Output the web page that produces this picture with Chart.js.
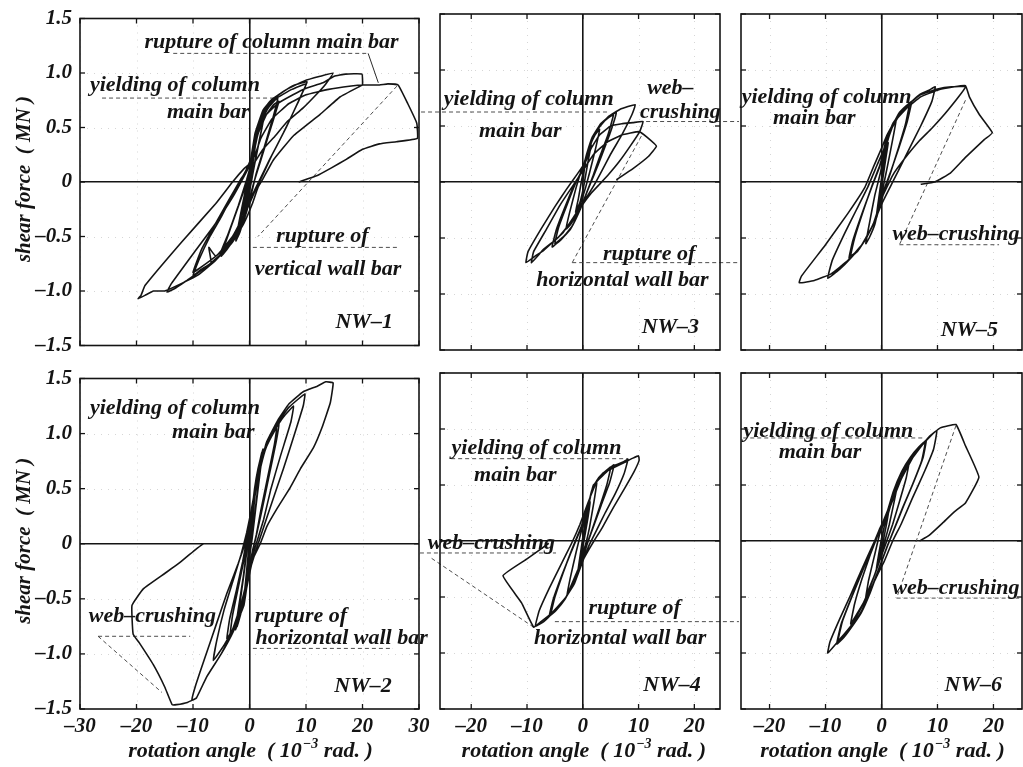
<!DOCTYPE html>
<html>
<head>
<meta charset="utf-8">
<script src="https://cdn.jsdelivr.net/npm/chart.js@4.4.1/dist/chart.umd.min.js"></script>
<style>
  body { margin: 0; background: #fff; }
  #wrap { position: relative; width: 1023px; height: 767px; overflow: hidden; background: #fff; }
  canvas { position: absolute; }
</style>
</head>
<body>
<div id="wrap"></div>
<script>
// rotation angle (1e-3 rad) vs shear force (MN)
const nw1Path = [[0,0],
  [0.3,0.15],[0.7,0.3],[1.2,0.42],[0.8,0.3],[0.2,0.05],[0,-0.05],[-0.5,-0.22],[-1,-0.36],[-0.6,-0.25],[-0.1,-0.02],[0.1,0.05],
  [0.4,0.2],[0.9,0.36],[1.4,0.45],[1,0.32],[0.3,0.06],[0,-0.04],[-0.6,-0.26],[-1.2,-0.4],[-0.7,-0.26],[-0.1,0],
  [0.5,0.2],[1.2,0.38],[2,0.52],[2.6,0.6],[2,0.45],[1,0.2],[0.4,0.02],[0,-0.08],[-0.6,-0.25],[-1.5,-0.42],[-2.3,-0.52],[-1.8,-0.4],[-0.8,-0.15],[-0.2,0.02],
  [0.4,0.22],[1,0.4],[1.8,0.52],[2.5,0.58],[1.9,0.42],[0.9,0.16],[0.3,0],[-0.2,-0.12],[-0.9,-0.32],[-1.7,-0.46],[-2.4,-0.54],[-1.9,-0.38],[-0.9,-0.12],[-0.2,0.06],
  [0.3,0.14],[1,0.36],[2,0.55],[3.2,0.67],[4.5,0.75],[5,0.77],[4.2,0.6],[2.5,0.3],[1.2,0.08],[0.6,-0.05],[0,-0.18],[-1,-0.35],[-2.5,-0.5],[-4,-0.62],[-5,-0.68],[-4.2,-0.55],[-2.5,-0.3],[-1,-0.08],[-0.2,0.05],
  [0.5,0.2],[1.5,0.44],[3,0.62],[4.3,0.71],[5.2,0.74],[3.8,0.5],[2,0.2],[0.8,0],[0,-0.15],[-1.5,-0.4],[-3.5,-0.57],[-5.2,-0.66],[-3.8,-0.48],[-2,-0.22],[-0.5,0.02],
  [0.5,0.22],[1.2,0.46],[2.4,0.64],[4,0.75],[6,0.83],[8,0.89],[10.2,0.92],[9,0.78],[6.5,0.5],[4,0.25],[2.2,0.05],[1,-0.08],[0,-0.2],[-1.5,-0.38],[-3.5,-0.55],[-6,-0.68],[-7.2,-0.6],[-6.8,-0.74],[-8.5,-0.8],[-10,-0.86],[-9,-0.72],[-7,-0.5],[-5,-0.32],[-3,-0.12],[-1.5,0.02],[-0.5,0.12],[0.5,0.25],
  [1.3,0.47],[2.6,0.64],[4.5,0.76],[7.5,0.85],[10,0.9],[8.5,0.72],[6,0.45],[3.5,0.2],[1.8,0.02],[0.5,-0.12],[-1,-0.3],[-3,-0.5],[-5.5,-0.66],[-8,-0.76],[-10,-0.83],[-8.5,-0.62],[-6,-0.38],[-3.5,-0.15],[-1.5,0.03],[0,0.15],
  [1,0.45],[2.4,0.66],[4,0.76],[6.6,0.85],[9.8,0.93],[12.5,0.97],[14.8,1.0],[13.5,0.9],[12.5,0.84],[9.5,0.68],[6.6,0.55],[4.5,0.42],[2.4,0.3],[0.6,0.15],[-0.3,-0.08],[-1.5,-0.4],[-3,-0.55],[-5,-0.66],[-7,-0.75],[-9,-0.83],[-11,-0.9],[-13,-0.97],[-14.6,-1.01],[-13.8,-0.93],[-10,-0.66],[-6,-0.38],[-3,-0.14],[-1.5,0],[0,0.15],
  [0.6,0.3],[1.5,0.47],[3,0.62],[5,0.72],[7.7,0.8],[10,0.86],[13,0.91],[15,0.97],[17,0.99],[19.9,0.99],[20,0.89],[19.6,0.88],[16,0.78],[12.5,0.62],[7.7,0.42],[4.2,0.2],[2.4,0.03],[1.5,-0.05],[0.5,-0.2],[-1,-0.38],[-3,-0.55],[-6,-0.72],[-9,-0.85],[-12,-0.93],[-15,-1.0],[-17,-1.0],[-18.5,-1.04],[-19.7,-1.07],[-19.2,-1.04],[-18.5,-0.95],[-12,-0.55],[-6,-0.2],[-3,0],[-1,0.12],[0.1,0.17],[1,0.25],
  [2,0.4],[4,0.58],[7,0.72],[10,0.8],[14,0.85],[18,0.88],[20,0.89],[23,0.89],[24.5,0.9],[26.3,0.89],[28,0.72],[29.6,0.54],[29.7,0.4],[26,0.37],[23,0.35],[20,0.3],[17.2,0.21],[14.5,0.13],[12,0.06],[8.7,0]];

const nw2Path = [[0,0],
  [0.3,0.2],[0.7,0.4],[1.2,0.55],[0.9,0.4],[0.3,0.1],[0,-0.05],[-0.3,-0.2],[-0.7,-0.4],[-1,-0.5],[-0.7,-0.35],[-0.2,-0.08],[0.1,0.08],
  [0.5,0.3],[1,0.52],[1.6,0.7],[2.2,0.83],[1.8,0.65],[1,0.3],[0.4,0.05],[0,-0.1],[-0.5,-0.3],[-1.2,-0.55],[-1.8,-0.68],[-2.2,-0.75],[-1.8,-0.58],[-1,-0.28],[-0.3,0],[0.2,0.15],
  [0.4,0.28],[0.9,0.5],[1.5,0.68],[2.4,0.86],[1.9,0.66],[1.1,0.32],[0.5,0.06],[0,-0.12],[-0.6,-0.35],[-1.3,-0.58],[-2,-0.72],[-2.5,-0.78],[-2,-0.6],[-1.1,-0.3],[-0.4,-0.02],[0.1,0.14],
  [0.6,0.3],[1.3,0.55],[2.2,0.78],[3.3,0.95],[4.8,1.05],[4.4,0.9],[3.2,0.6],[2,0.3],[1.2,0.08],[0.6,-0.05],[0,-0.2],[-0.8,-0.45],[-1.8,-0.65],[-3.4,-0.82],[-3,-0.65],[-2,-0.4],[-1,-0.15],[-0.3,0.05],[0.3,0.2],
  [0.7,0.36],[1.5,0.62],[2.6,0.85],[3.8,1.0],[5.2,1.09],[4.7,0.92],[3.4,0.6],[2.1,0.28],[1.1,0.05],[0.3,-0.12],[-0.6,-0.38],[-1.8,-0.64],[-3,-0.78],[-4,-0.86],[-3.5,-0.68],[-2.3,-0.42],[-1.2,-0.16],[-0.4,0.06],[0.4,0.26],
  [1,0.45],[2,0.7],[3,0.88],[4.5,1.03],[6,1.15],[7.8,1.25],[7.3,1.1],[5.5,0.8],[3.8,0.5],[2.5,0.22],[1.5,0.05],[0.6,-0.1],[-0.3,-0.3],[-1.5,-0.55],[-3,-0.78],[-4.5,-0.92],[-6.4,-1.06],[-5.8,-0.88],[-4.5,-0.6],[-3,-0.35],[-1.5,-0.1],[-0.5,0.1],[0.3,0.3],
  [1,0.5],[2,0.75],[3.5,0.95],[5,1.1],[7,1.24],[9.8,1.36],[9.5,1.25],[8,1.0],[6,0.68],[4,0.38],[2.5,0.15],[1.2,-0.05],[0,-0.25],[-1.5,-0.55],[-3,-0.8],[-5,-1.0],[-7.6,-1.21],[-9.4,-1.4],[-10.2,-1.42],[-9.5,-1.28],[-8,-1.05],[-6,-0.75],[-4,-0.45],[-2,-0.18],[-0.8,0],[0,0.15],[0.8,0.4],
  [1.5,0.62],[3,0.92],[5,1.12],[7,1.27],[9.5,1.38],[12,1.43],[13.5,1.47],[14.8,1.46],[14.3,1.28],[12.8,1.05],[11.3,0.87],[9,0.68],[7.2,0.51],[5,0.33],[3.1,0.16],[1.9,0],[0.6,-0.14],[-0.5,-0.4],[-1,-0.56],[-2.9,-0.8],[-5,-1.0],[-7.6,-1.21],[-9.4,-1.4],[-11,-1.44],[-12.9,-1.46],[-13.7,-1.46],[-15,-1.3],[-17,-1.1],[-19.5,-0.9],[-20.6,-0.82],[-20.8,-0.56],[-18.8,-0.41],[-15,-0.27],[-12.3,-0.17],[-9.5,-0.05],[-8.2,0]];

const nw3Path = [[0,0],
  [0.3,0.12],[0.8,0.25],[1.5,0.33],[1,0.2],[0.3,0],[0,-0.08],[-0.5,-0.18],[-1.3,-0.27],[-0.8,-0.15],[-0.2,0.02],
  [0.5,0.18],[1.3,0.32],[2.2,0.42],[3,0.47],[2.3,0.3],[1.2,0.08],[0.5,-0.05],[-0.3,-0.18],[-1.2,-0.3],[-2.2,-0.38],[-3,-0.42],[-2.4,-0.28],[-1.2,-0.05],[-0.3,0.1],
  [0.6,0.22],[1.5,0.37],[3,0.5],[4.5,0.57],[5.5,0.6],[4.5,0.42],[3,0.22],[1.8,0.05],[0.8,-0.08],[-0.5,-0.25],[-2,-0.4],[-3.5,-0.49],[-5,-0.55],[-4.3,-0.4],[-2.8,-0.2],[-1.2,0],[0,0.12],
  [0.7,0.25],[1.7,0.4],[3.2,0.52],[4.8,0.59],[6,0.62],[5,0.45],[3.5,0.25],[2,0.06],[0.9,-0.07],[-0.6,-0.26],[-2.2,-0.42],[-3.8,-0.51],[-5.5,-0.58],[-4.7,-0.42],[-3,-0.2],[-1.4,-0.01],[0,0.1],
  [1,0.3],[2.5,0.46],[4.5,0.58],[6.7,0.65],[9.4,0.69],[8.8,0.6],[7,0.42],[5,0.25],[3.2,0.08],[2,-0.03],[0.5,-0.15],[-1.6,-0.31],[-3.5,-0.45],[-5,-0.52],[-7,-0.61],[-8.5,-0.66],[-10.2,-0.72],[-9.8,-0.62],[-7.5,-0.42],[-5,-0.22],[-3,-0.07],[-1,0.07],[0.5,0.18],
  [1.5,0.3],[3,0.42],[5,0.5],[7,0.52],[9,0.53],[10.8,0.54],[10.2,0.45],[8.5,0.32],[6.5,0.18],[4.5,0.06],[3,-0.02],[1.5,-0.1],[0,-0.2],[-2,-0.35],[-4.5,-0.5],[-7,-0.6],[-9.2,-0.72],[-8.8,-0.62],[-6.5,-0.42],[-4,-0.2],[-2,-0.05],[0,0.1],
  [2,0.25],[4.5,0.36],[7,0.42],[10.1,0.45],[11.5,0.4],[13.2,0.32],[11.8,0.23],[9,0.12],[6,0.02]];

const nw4Path = [[0,0],
  [0.3,0.1],[0.8,0.25],[1.3,0.35],[0.9,0.2],[0.2,0],[0,-0.06],[-0.4,-0.18],[-0.9,-0.28],[-0.5,-0.14],[0,0.03],
  [0.5,0.18],[1.2,0.36],[1.9,0.5],[2.5,0.52],[2,0.35],[1.2,0.12],[0.5,-0.03],[-0.3,-0.15],[-1.2,-0.32],[-2,-0.42],[-2.8,-0.48],[-2.2,-0.32],[-1.2,-0.1],[-0.3,0.08],
  [0.6,0.22],[1.5,0.42],[2.5,0.54],[3.5,0.6],[5,0.66],[4.3,0.5],[3,0.3],[1.8,0.12],[0.8,-0.02],[-0.3,-0.18],[-1.5,-0.36],[-3,-0.5],[-4.5,-0.6],[-5.7,-0.65],[-5,-0.5],[-3.5,-0.28],[-2,-0.08],[-0.5,0.1],
  [0.7,0.26],[1.6,0.45],[2.8,0.56],[4,0.62],[5.6,0.68],[4.8,0.52],[3.3,0.32],[2,0.14],[0.9,-0.01],[-0.3,-0.2],[-1.6,-0.38],[-3.2,-0.52],[-4.8,-0.62],[-6,-0.67],[-5.3,-0.52],[-3.7,-0.3],[-2.1,-0.1],[-0.6,0.08],
  [0.8,0.3],[2,0.5],[3.5,0.6],[5.5,0.67],[7.4,0.71],[8.1,0.73],[7.4,0.6],[5.8,0.42],[4,0.25],[2.5,0.1],[1.2,-0.03],[0,-0.18],[-1.5,-0.38],[-3,-0.5],[-5,-0.62],[-7,-0.72],[-8.5,-0.76],[-7.8,-0.62],[-6,-0.42],[-4,-0.22],[-2,-0.02],[-0.5,0.15],
  [1,0.35],[2.5,0.53],[4.6,0.63],[7.4,0.7],[9,0.74],[10,0.76],[10.1,0.72],[9.2,0.62],[7.5,0.47],[5.5,0.3],[3.5,0.12],[2,0],[0.6,-0.12],[-0.9,-0.26],[-3,-0.5],[-5.7,-0.65],[-7.5,-0.72],[-8.8,-0.77],[-11,-0.55],[-14.3,-0.31],[-10,-0.16],[-6.1,-0.02]];

const nw5Path = [[0,0],
  [0.3,0.12],[0.7,0.25],[1.2,0.35],[0.8,0.22],[0.2,0.02],[0,-0.06],[-0.4,-0.2],[-0.9,-0.3],[-0.5,-0.15],[0,0.03],
  [0.4,0.18],[1,0.35],[2,0.5],[2.6,0.55],[2,0.38],[1.1,0.15],[0.4,-0.02],[-0.4,-0.2],[-1.2,-0.38],[-2.2,-0.5],[-2.8,-0.55],[-2.2,-0.38],[-1.2,-0.12],[-0.2,0.08],
  [0.7,0.3],[2,0.5],[3,0.6],[4.1,0.66],[5,0.7],[4.3,0.52],[3,0.3],[1.6,0.08],[0.5,-0.08],[-0.8,-0.3],[-2.5,-0.48],[-4,-0.6],[-5.5,-0.66],[-4.8,-0.5],[-3.2,-0.25],[-1.6,-0.02],[-0.3,0.15],
  [0.8,0.33],[2.1,0.52],[3.2,0.62],[4.4,0.68],[5.4,0.72],[4.6,0.54],[3.2,0.32],[1.7,0.1],[0.5,-0.06],[-0.9,-0.32],[-2.7,-0.5],[-4.3,-0.62],[-5.8,-0.68],[-5.1,-0.52],[-3.4,-0.27],[-1.7,-0.04],[-0.3,0.14],
  [0.7,0.35],[2,0.52],[4.1,0.66],[6.8,0.78],[8.5,0.82],[9.6,0.85],[9,0.72],[7,0.5],[5,0.3],[3,0.1],[1.5,-0.05],[0,-0.2],[-1.5,-0.38],[-3.5,-0.56],[-5.5,-0.68],[-7.5,-0.78],[-9.6,-0.86],[-8.8,-0.7],[-6.5,-0.45],[-4.5,-0.25],[-2.5,-0.05],[-0.8,0.15],[0.5,0.3],
  [1.5,0.45],[3,0.58],[5,0.7],[7,0.78],[10,0.83],[12.5,0.85],[15,0.85],[12,0.65],[9,0.48],[6.8,0.37],[4,0.2],[2,0.06],[0,-0.15],[-1.5,-0.38],[-3.5,-0.56],[-6,-0.7],[-9,-0.82],[-12,-0.88],[-14.7,-0.9],[-14.3,-0.84],[-10,-0.56],[-6,-0.28],[-3,-0.05],[-1.4,0.14],[0,0.3],[1,0.42],
  [2.5,0.55],[4.5,0.66],[7,0.76],[10,0.82],[13,0.85],[15,0.86],[15.7,0.76],[17.5,0.6],[19.8,0.44],[18.4,0.38],[15,0.22],[12.3,0.08],[9.5,0],[7,-0.02]];

const nw6Path = [[0,0],
  [0.3,0.08],[0.8,0.2],[1.3,0.28],[0.9,0.15],[0.3,0],[0,-0.06],[-0.4,-0.15],[-0.9,-0.25],[-0.5,-0.12],[0,0.02],
  [0.6,0.15],[1.3,0.26],[2.2,0.42],[2.8,0.5],[2.3,0.36],[1.4,0.15],[0.6,0],[-0.3,-0.15],[-1.2,-0.3],[-2.2,-0.42],[-2.8,-0.5],[-2.3,-0.35],[-1.3,-0.14],[-0.4,0.05],
  [0.7,0.2],[1.8,0.38],[3,0.55],[4.2,0.65],[5,0.72],[4.4,0.56],[3.2,0.35],[2,0.15],[0.8,-0.02],[-0.5,-0.2],[-1.8,-0.38],[-3.2,-0.55],[-4.5,-0.66],[-5.5,-0.74],[-4.8,-0.56],[-3.5,-0.34],[-2,-0.12],[-0.6,0.06],
  [0.8,0.22],[2,0.42],[3.5,0.6],[5,0.73],[6.5,0.82],[7.8,0.88],[7.2,0.72],[5.5,0.5],[3.8,0.3],[2.2,0.1],[1,-0.05],[-0.5,-0.25],[-2,-0.45],[-3.5,-0.62],[-5,-0.74],[-6.5,-0.84],[-7.8,-0.9],[-7,-0.72],[-5.3,-0.5],[-3.5,-0.28],[-1.8,-0.07],[-0.4,0.1],
  [0.9,0.24],[2.1,0.44],[3.6,0.62],[5.2,0.75],[6.7,0.84],[8,0.9],[7.4,0.74],[5.7,0.52],[4,0.32],[2.4,0.12],[1.1,-0.04],[-0.4,-0.24],[-2,-0.46],[-3.6,-0.64],[-5.2,-0.76],[-6.7,-0.86],[-8,-0.92],[-7.2,-0.74],[-5.5,-0.52],[-3.7,-0.3],[-2,-0.09],[-0.5,0.08],
  [1,0.26],[2.7,0.48],[4.8,0.69],[7.5,0.87],[9.9,0.99],[9.3,0.82],[7.5,0.6],[5.5,0.38],[3.5,0.15],[2,0],[0.5,-0.18],[-0.7,-0.3],[-2.8,-0.52],[-5.5,-0.76],[-7.5,-0.88],[-9.6,-1.0],[-9.2,-0.9],[-7.5,-0.7],[-5.5,-0.48],[-3.5,-0.25],[-1.5,-0.03],[0,0.13],
  [1.5,0.3],[3.5,0.55],[6,0.78],[8.5,0.93],[10.5,1.01],[13.3,1.04],[15,0.85],[17.4,0.57],[15,0.34],[13,0.26],[10.9,0.16],[8.5,0.05],[6.8,0]];

// leader lines (pairs of [angle, force])
const nw1Leaders = [[[-13.5,1.18],[21,1.18]], [[-26.1,0.77],[4.9,0.77]], [[0.6,-0.6],[26.1,-0.6]], [[26.1,0.88],[1.5,-0.5]]];
const nw1Solid = [[[21,1.18],[22.8,0.91]]];
const nw2Leaders = [[[-26.8,-0.84],[-10.5,-0.84]], [[-26.8,-0.84],[-15.5,-1.35]], [[0.6,-0.95],[25.4,-0.95]]];
const nw3Leaders = [[[-29,0.625],[4.5,0.625]], [[10.1,0.54],[28,0.54]], [[10.5,0.41],[-1.9,-0.72]], [[-1.9,-0.72],[28,-0.72]]];
const nw4Leaders = [[[-29.2,-0.107],[-4.8,-0.107]], [[-27.1,-0.155],[-8.8,-0.77]], [[-23.6,0.735],[8.1,0.735]], [[-5,-0.72],[28,-0.72]]];
const nw5Leaders = [[[15,0.73],[3.2,-0.56]], [[3.2,-0.56],[21,-0.56]]];
const nw6Leaders = [[[13.3,1.03],[2.7,-0.51]], [[2.7,-0.51],[24.6,-0.51]], [[-24.7,0.92],[7.7,0.92]]];

// annotations: text, angle, force
const nw1Notes = [['rupture of column main bar',3.9,1.28],['yielding of column',-13.2,0.89],['main bar',-7.3,0.64],['rupture of',12.9,-0.5],['vertical wall bar',13.9,-0.8],['NW–1',20.3,-1.29]];
const nw2Notes = [['yielding of column',-13.2,1.23],['main bar',-6.4,1.01],['web–crushing',-17.2,-0.66],['rupture of',9.1,-0.66],['horizontal wall bar',16.3,-0.86],['NW–2',20.1,-1.29]];
const nw3Notes = [['yielding of column',-9.7,0.74],['main bar',-11.2,0.45],['web–',15.7,0.84],['crushing',17.5,0.625],['rupture of',11.9,-0.65],['horizontal wall bar',7.1,-0.875],['NW–3',15.7,-1.3]];
const nw4Notes = [['yielding of column',-8.3,0.83],['main bar',-12.1,0.59],['web–crushing',-16.4,-0.02],['rupture of',9.3,-0.6],['horizontal wall bar',6.7,-0.87],['NW–4',16,-1.29]];
const nw5Notes = [['yielding of column',-9.8,0.76],['main bar',-12,0.57],['web–crushing',13.3,-0.47],['NW–5',15.7,-1.32]];
const nw6Notes = [['yielding of column',-9.5,0.98],['main bar',-11,0.79],['web–crushing',13.3,-0.42],['NW–6',16.4,-1.29]];

const xRanges = [[-30, 30], [-25.6, 24.6], [-25.1, 25.1]];
const yRange = [-1.5, 1.5];

const SERIF = '"Liberation Serif", "Times New Roman", serif';
const INK = '#141414';

// page layout of plot boxes
const cols = [
  { x0: 80, w: 339, ml: 80, mr: 20, yW: 50 },
  { x0: 440, w: 280, ml: 20, mr: 20, yW: 0 },
  { x0: 741, w: 281, ml: 20, mr: 1, yW: 0 }
];
const rows = [
  { y0: 14, h: 336, mt: 14, mb: 14, xH: 0 },
  { y0: 373, h: 336, mt: 13, mb: 58, xH: 40 }
];

const panels = [
  { path: nw1Path, leaders: nw1Leaders, solid: nw1Solid, notes: nw1Notes, col: 0, row: 0 },
  { path: nw3Path, leaders: nw3Leaders, solid: [], notes: nw3Notes, col: 1, row: 0 },
  { path: nw5Path, leaders: nw5Leaders, solid: [], notes: nw5Notes, col: 2, row: 0 },
  { path: nw2Path, leaders: nw2Leaders, solid: [], notes: nw2Notes, col: 0, row: 1 },
  { path: nw4Path, leaders: nw4Leaders, solid: [], notes: nw4Notes, col: 1, row: 1 },
  { path: nw6Path, leaders: nw6Leaders, solid: [], notes: nw6Notes, col: 2, row: 1 }
];

function fmtX(v) { return v < 0 ? '–' + (-v) : '' + v; }
function fmtY(v) { return v === 0 ? '0' : (v < 0 ? '–' : '') + Math.abs(v).toFixed(1); }

function seg(ctx, x1, y1, x2, y2) {
  ctx.beginPath(); ctx.moveTo(x1, y1); ctx.lineTo(x2, y2); ctx.stroke();
}

function makeDeco(p) {
  return {
    id: 'deco' + p.col + p.row,
    beforeDatasetsDraw(chart) {
      const { ctx, chartArea: a, scales: { x, y } } = chart;
      ctx.save();
      ctx.strokeStyle = 'rgba(0,0,0,0.16)';
      ctx.lineWidth = 1;
      ctx.setLineDash([1, 6]);
      x.ticks.forEach(t => {
        if (t.value === 0) return;
        const px = Math.round(x.getPixelForValue(t.value)) + 0.5;
        seg(ctx, px, a.top, px, a.bottom);
      });
      y.ticks.forEach(t => {
        if (t.value === 0 || Math.abs(t.value) === 1.5) return;
        const py = Math.round(y.getPixelForValue(t.value)) + 0.5;
        seg(ctx, a.left, py, a.right, py);
      });
      ctx.restore();
    },
    afterDatasetsDraw(chart) {
      const { ctx, chartArea: a, scales: { x, y } } = chart;
      ctx.save();
      ctx.strokeStyle = INK;
      ctx.lineWidth = 1.6;
      ctx.strokeRect(a.left, a.top, a.right - a.left, a.bottom - a.top);
      ctx.lineWidth = 1.3;
      x.ticks.forEach(t => {
        const px = x.getPixelForValue(t.value);
        seg(ctx, px, a.top, px, a.top + 5);
        seg(ctx, px, a.bottom, px, a.bottom - 5);
      });
      y.ticks.forEach(t => {
        const py = y.getPixelForValue(t.value);
        seg(ctx, a.left, py, a.left + 5, py);
        seg(ctx, a.right, py, a.right - 5, py);
      });
      ctx.restore();
    },
    afterDraw(chart) {
      const { ctx, chartArea: a, scales: { x, y } } = chart;
      ctx.save();
      ctx.fillStyle = INK;
      ctx.textAlign = 'center';
      ctx.textBaseline = 'middle';
      ctx.font = 'italic bold 22px ' + SERIF;
      p.notes.forEach(([t, nx, ny]) => {
        ctx.fillText(t, x.getPixelForValue(nx), y.getPixelForValue(ny));
      });
      if (p.col === 0) {
        ctx.save();
        ctx.translate(a.left - 55, (a.top + a.bottom) / 2 - 3);
        ctx.rotate(-Math.PI / 2);
        ctx.font = 'italic bold 21px ' + SERIF;
        ctx.fillText('shear force  ( MN )', 0, 0);
        ctx.restore();
      }
      if (p.row === 1) {
        const big = 'italic bold 22px ' + SERIF, small = 'italic bold 14px ' + SERIF;
        const s1 = 'rotation angle  ( 10', s2 = '−3', s3 = ' rad. )';
        ctx.font = big;
        const w1 = ctx.measureText(s1).width, w3 = ctx.measureText(s3).width;
        ctx.font = small;
        const w2 = ctx.measureText(s2).width + 1;
        let x0 = x.getPixelForValue(0) + 1 - (w1 + w2 + w3) / 2;
        const base = a.bottom + 48;
        ctx.textAlign = 'left';
        ctx.textBaseline = 'alphabetic';
        ctx.font = big; ctx.fillText(s1, x0, base);
        ctx.font = small; ctx.fillText(s2, x0 + w1 + 1, base - 9);
        ctx.font = big; ctx.fillText(s3, x0 + w1 + w2, base);
      }
      ctx.restore();
    }
  };
}

const wrap = document.getElementById('wrap');
Chart.defaults.font.family = SERIF;

panels.forEach(p => {
  const C = cols[p.col], R = rows[p.row];
  const cv = document.createElement('canvas');
  const W = C.ml + C.w + C.mr, H = R.mt + R.h + R.mb;
  cv.width = W; cv.height = H;
  cv.style.left = (C.x0 - C.ml) + 'px';
  cv.style.top = (R.y0 - R.mt) + 'px';
  cv.style.width = W + 'px'; cv.style.height = H + 'px';
  wrap.appendChild(cv);

  const tickFont = { family: SERIF, size: 21, style: 'italic', weight: 'bold', lineHeight: 1 };
  const datasets = [{
    data: p.path.map(([px, py]) => ({ x: px, y: py })),
    showLine: true, borderColor: INK, borderWidth: 1.6, pointRadius: 0, tension: 0.1
  }];
  p.leaders.forEach(l => datasets.push({
    data: l.map(([px, py]) => ({ x: px, y: py })),
    showLine: true, borderColor: '#3a3a3a', borderWidth: 0.9, borderDash: [4, 3], pointRadius: 0, clip: false
  }));
  p.solid.forEach(l => datasets.push({
    data: l.map(([px, py]) => ({ x: px, y: py })),
    showLine: true, borderColor: '#2a2a2a', borderWidth: 1, pointRadius: 0, clip: false
  }));

  new Chart(cv, {
    type: 'scatter',
    data: { datasets },
    options: {
      responsive: false,
      animation: false,
      devicePixelRatio: 1,
      layout: { padding: { left: C.ml - C.yW, right: C.mr, top: R.mt, bottom: R.mb - R.xH } },
      plugins: { legend: { display: false }, tooltip: { enabled: false } },
      scales: {
        x: {
          type: 'linear', min: xRanges[p.col][0], max: xRanges[p.col][1],
          afterFit: s => { s.height = R.xH; },
          border: { display: false },
          grid: { color: c => (c.tick && c.tick.value === 0) ? INK : 'rgba(0,0,0,0)', lineWidth: 1.6, drawTicks: false },
          ticks: { display: R.xH > 0, stepSize: 10, includeBounds: false, padding: 7, color: INK, font: tickFont, callback: fmtX, maxRotation: 0, autoSkip: false }
        },
        y: {
          type: 'linear', min: yRange[0], max: yRange[1],
          afterFit: s => { s.width = C.yW; },
          border: { display: false },
          grid: { color: c => (c.tick && c.tick.value === 0) ? INK : 'rgba(0,0,0,0)', lineWidth: 1.6, drawTicks: false },
          ticks: { display: C.yW > 0, stepSize: 0.5, padding: 8, color: INK, font: tickFont, callback: fmtY, autoSkip: false }
        }
      }
    },
    plugins: [makeDeco(p)]
  });
});
</script>
</body>
</html>
